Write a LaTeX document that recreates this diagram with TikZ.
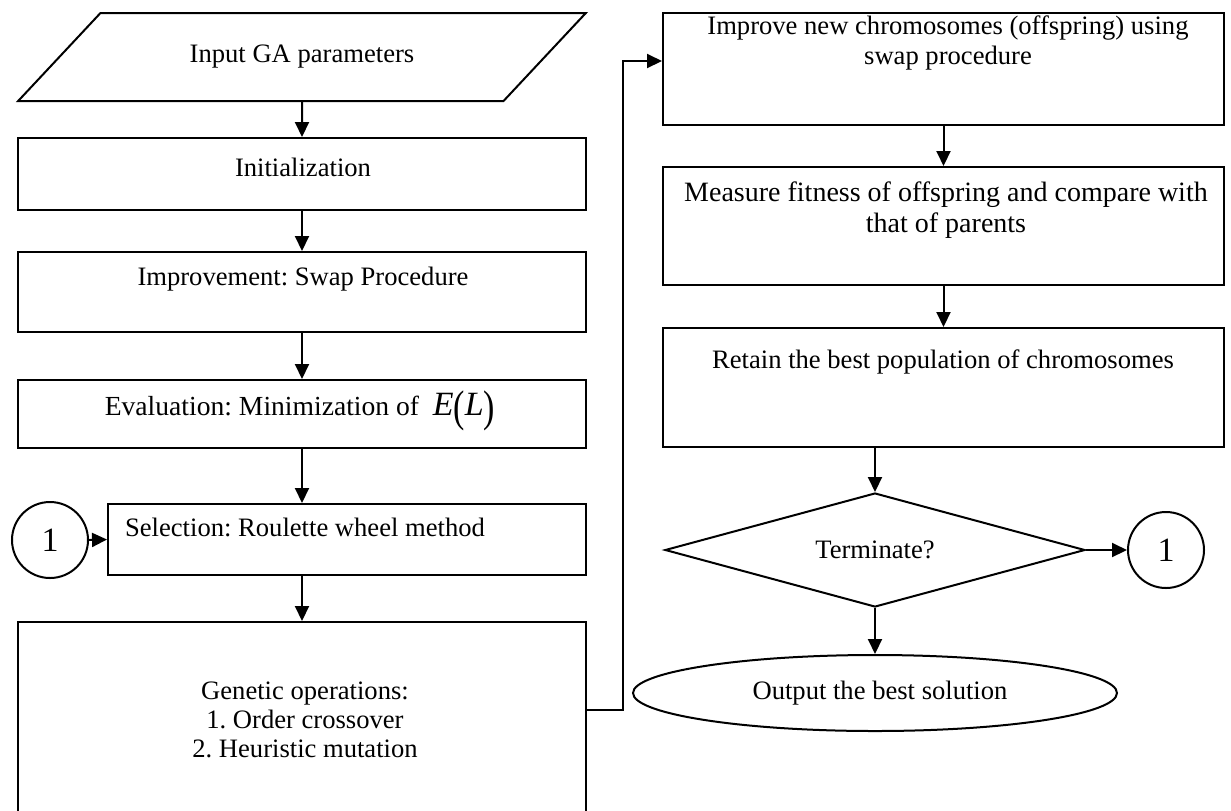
\documentclass[tikz,border=0pt]{standalone}
\usepackage{fontspec}
\setmainfont{Liberation Serif}
\usetikzlibrary{shapes.geometric,arrows.meta}
\frenchspacing
\tikzset{
    flow-box/.style = {draw, line width=1pt, rectangle, minimum width=284pt, inner sep=0pt},
    flow-right/.style = {flow-box, minimum width=280.5pt},
    flow-text/.style = {align=center, inner sep=0pt, font=\fontsize{13.3}{14.6}\selectfont},
    flow-arrow/.style = {line width=1pt, -{Triangle[length=7.5pt,width=7pt]}},
    connector/.style = {draw, line width=1pt, circle, minimum size=38pt, inner sep=0pt, font=\fontsize{17}{17}\selectfont},
}

\begin{document}
\begin{tikzpicture}[x=0.5pt, y=-0.5pt]
\useasboundingbox (0,0) rectangle (1231,810);
\clip (0,0) rectangle (1231,810);

% left column
\node [draw, line width=1pt, trapezium, trapezium left angle=37, trapezium right angle=143,
       trapezium stretches=true, minimum width=284pt, minimum height=44pt,
       font=\fontsize{13.3}{14.6}\selectfont] (input) at (302,57) {Input GA parameters};
\node [flow-box, minimum height=36pt] (init) at (302,174) {};
\node [flow-box, minimum height=40pt] (impr) at (302,292) {};
\node [flow-box, minimum height=34pt] (eval) at (302,414) {};
\node [flow-box, minimum width=239pt, minimum height=35.5pt] (sel) at (347,539.5) {};
\node [flow-box, minimum height=104pt] (gen) at (302,726) {};
\node [connector] (con-left) at (50,540) {1};

\node [flow-text] (init-txt) at (303,167) {Initialization};
\node [flow-text] (impr-txt) at (303,279) {Improvement: Swap Procedure};
\node [flow-text, font=\fontsize{13.8}{15}\selectfont] (eval-txt) at (300,411) {Evaluation: Minimization of\ \ {\fontsize{17}{17}\selectfont\textit{E}\raisebox{-3pt}{\scalebox{1}[1.3]{(}}\textit{L}\raisebox{-3pt}{\scalebox{1}[1.3]{)}}}};
\node [flow-text] (sel-txt) at (305,527) {Selection: Roulette wheel method};
\node [flow-text] (gen-txt) at (305,720) {Genetic operations:\\1. Order crossover\\2. Heuristic mutation};

% right column
\node [flow-right, minimum height=56pt] (offspr) at (943.5,69) {};
\node [flow-right, minimum height=59pt] (fitness) at (943.5,226) {};
\node [flow-right, minimum height=59.5pt] (retain) at (943.5,387.5) {};
\node [draw, line width=1pt, diamond, minimum width=210pt, minimum height=57pt, inner sep=0pt] (term) at (875,550) {};
\node [connector] (con-right) at (1166,550) {1};
\node [draw, line width=1pt, ellipse, minimum width=242pt, minimum height=38pt, inner sep=0pt] (best) at (875,693) {};

\node [flow-text] (offspr-txt) at (948,43) {Improve new chromosomes (offspring) using\\swap procedure};
\node [flow-text, font=\fontsize{14}{15.2}\selectfont] (fitness-txt) at (946,210) {Measure fitness of offspring and compare with\\that of parents};
\node [flow-text] (retain-txt) at (943,362) {Retain the best population of chromosomes};
\node [flow-text] (term-txt) at (875,550) {Terminate?};
\node [flow-text] (best-txt) at (880,693) {Output the best solution};

% connectors
\draw [flow-arrow] (input.south) -- (init.north);
\draw [flow-arrow] (init.south) -- (impr.north);
\draw [flow-arrow] (impr.south) -- (eval.north);
\draw [flow-arrow] (eval.south) -- (eval.south |- sel.north);
\draw [flow-arrow] (eval.south |- sel.south) -- (gen.north);
\draw [flow-arrow] (con-left.east) -- (sel.west);
\draw [flow-arrow] ([yshift=8pt]gen.east) -- ++(36,0) |- ([yshift=4pt]offspr.west);
\draw [flow-arrow] (offspr.south) -- (fitness.north);
\draw [flow-arrow] (fitness.south) -- (retain.north);
\draw [flow-arrow] (term.north |- retain.south) -- (term.north);
\draw [flow-arrow] (term.east) -- (con-right.west);
\draw [flow-arrow] (term.south) -- (best.north);
\end{tikzpicture}
\end{document}
